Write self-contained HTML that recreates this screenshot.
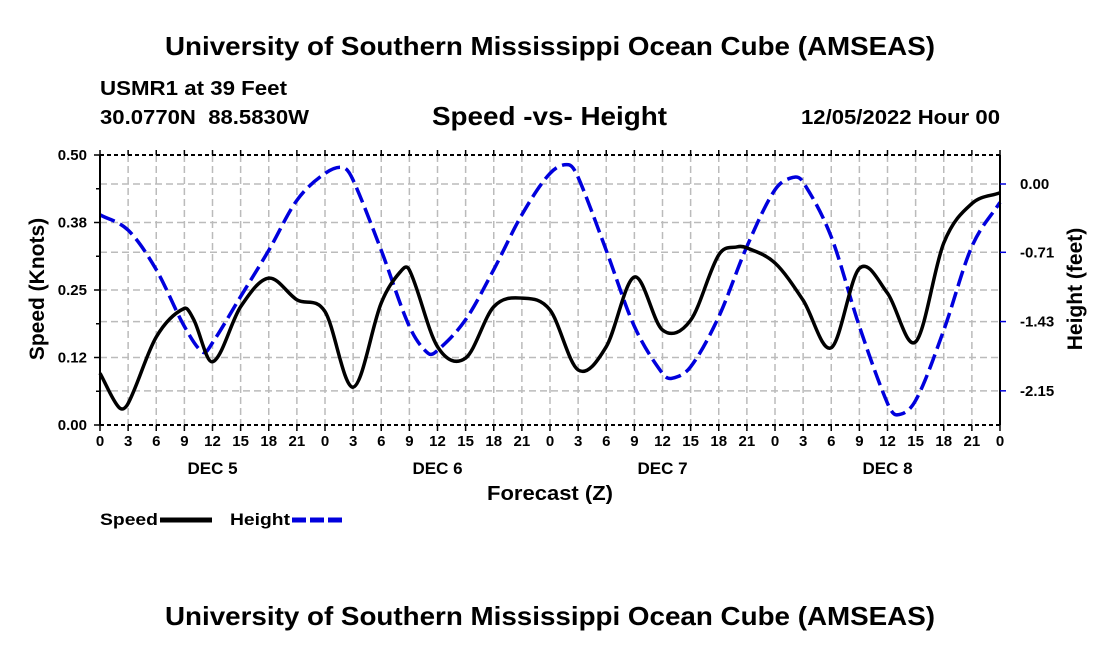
<!DOCTYPE html>
<html><head><meta charset="utf-8"><style>
body{margin:0;background:#fff;}
svg{display:block;font-family:"Liberation Sans",Arial,sans-serif;font-weight:bold;}
</style></head><body>
<svg id="chart" width="1100" height="650" viewBox="0 0 1100 650">
<text x="165" y="55" font-size="26" textLength="770" lengthAdjust="spacingAndGlyphs">University of Southern Mississippi Ocean Cube (AMSEAS)</text>
<text x="100" y="95" font-size="20" textLength="187" lengthAdjust="spacingAndGlyphs">USMR1 at 39 Feet</text>
<text x="100" y="124" font-size="20" textLength="209" lengthAdjust="spacingAndGlyphs">30.0770N&#160;&#160;88.5830W</text>
<text x="432" y="125" font-size="26" textLength="235" lengthAdjust="spacingAndGlyphs">Speed -vs- Height</text>
<text x="801" y="124" font-size="20" textLength="199" lengthAdjust="spacingAndGlyphs">12/05/2022 Hour 00</text>
<g id="grid"></g>
<g id="series"></g>
<g id="axes"></g>
<text x="487" y="500" font-size="20" textLength="126" lengthAdjust="spacingAndGlyphs">Forecast (Z)</text>
<text transform="translate(44,289) rotate(-90)" text-anchor="middle" font-size="21">Speed (Knots)</text>
<text transform="translate(1082,289) rotate(-90)" text-anchor="middle" font-size="21">Height (feet)</text>
<g><text x="100" y="525" font-size="17" textLength="58" lengthAdjust="spacingAndGlyphs">Speed</text><line x1="160" y1="520" x2="212" y2="520" stroke="#000" stroke-width="5"/></g>
<g><text x="230" y="525" font-size="17" textLength="60" lengthAdjust="spacingAndGlyphs">Height</text><line x1="292" y1="520" x2="342" y2="520" stroke="#0000dd" stroke-width="5" stroke-dasharray="14,4"/></g>
<text x="165" y="625" font-size="26" textLength="770" lengthAdjust="spacingAndGlyphs">University of Southern Mississippi Ocean Cube (AMSEAS)</text>
</svg>
<script>
const speedHours=[0,2,3,6,9,10,12,15,18,21,24,27,30,32,33,36,39,42,45,48,51,54,57,60,63,66,68,69,72,75,78,81,84,87,90,93,96];
const speedVals=[0.096,0.033,0.04,0.163,0.216,0.195,0.117,0.219,0.272,0.232,0.21,0.07,0.226,0.283,0.287,0.145,0.124,0.219,0.235,0.213,0.102,0.145,0.274,0.176,0.194,0.315,0.33,0.328,0.30,0.231,0.143,0.29,0.244,0.154,0.337,0.41,0.43];
const heightHours=[0,3,6,9,11,12,15,18,21,24,26,27,30,33,35,36,39,42,45,48,50,51,54,57,60,61,63,66,69,72,74,75,78,81,84,85,87,90,93,96];
const heightVals=[-0.32,-0.48,-0.89,-1.48,-1.75,-1.65,-1.17,-0.69,-0.17,0.11,0.17,0.04,-0.69,-1.48,-1.76,-1.73,-1.41,-0.89,-0.32,0.11,0.2,0.07,-0.69,-1.48,-1.97,-2.02,-1.9,-1.38,-0.65,-0.06,0.07,0.02,-0.55,-1.48,-2.28,-2.40,-2.25,-1.52,-0.65,-0.19];
const xTickLabels=["0","3","6","9","12","15","18","21"];
const leftTicks=[0,0.125,0.25,0.375,0.5];
const leftTickLabels=["0.00","0.12","0.25","0.38","0.50"];
const rightTicks=[0,-0.71,-1.43,-2.15];
const rightTickLabels=["0.00","-0.71","-1.43","-2.15"];
const dayLabels=["DEC 5","DEC 6","DEC 7","DEC 8"];

const L=100,R=1000,T=155,B=425;
const xS=h=>L+(R-L)*h/96;
const yS=v=>B-(B-T)*v/0.5;
const yH=f=>184-f*96.2;
const NS="http://www.w3.org/2000/svg";
function mk(tag,attrs,parent){const e=document.createElementNS(NS,tag);for(const k in attrs)e.setAttribute(k,attrs[k]);parent.appendChild(e);return e;}
const grid=document.getElementById('grid'),axes=document.getElementById('axes'),series=document.getElementById('series');
for(let h=3;h<96;h+=3){const l=mk('line',{x1:xS(h),x2:xS(h),y1:T,y2:B,stroke:'#bbb','stroke-width':1.5,'stroke-dasharray':'7,4'},grid);

}
leftTicks.slice(1,-1).forEach(v=>{const l=mk('line',{x1:L,x2:R,y1:yS(v),y2:yS(v),stroke:'#bbb','stroke-width':1.5,'stroke-dasharray':'7,4'},grid);

});
rightTicks.forEach(v=>{const l=mk('line',{x1:L,x2:R,y1:yH(v),y2:yH(v),stroke:'#bbb','stroke-width':1.5,'stroke-dasharray':'7,4'},grid);

});
mk('line',{x1:L,x2:R,y1:T,y2:T,stroke:'#000','stroke-width':2,'stroke-dasharray':'4,3'},axes);
mk('line',{x1:L,x2:R,y1:B,y2:B,stroke:'#000','stroke-width':2,'stroke-dasharray':'4,3'},axes);
mk('line',{x1:L,x2:L,y1:T,y2:B,stroke:'#000','stroke-width':2},axes);
mk('line',{x1:R,x2:R,y1:T,y2:B,stroke:'#000','stroke-width':2},axes);
for(let i=0;i<=32;i++){const h=i*3,x=xS(h);
mk('line',{x1:x,x2:x,y1:B,y2:B+6,stroke:'#000','stroke-width':1.5},axes);
mk('line',{x1:x,x2:x,y1:T,y2:T-5,stroke:'#000','stroke-width':1.5},axes);
const t=mk('text',{x:x,y:B+21,'text-anchor':'middle','font-size':15},axes);t.textContent=xTickLabels[i%8];

}
dayLabels.forEach((d,i)=>{const t=mk('text',{x:xS(12+24*i),y:B+49,'text-anchor':'middle','font-size':17},axes);t.textContent=d;

});
leftTicks.forEach((v,i)=>{mk('line',{x1:L-6,x2:L,y1:yS(v),y2:yS(v),stroke:'#000','stroke-width':1.5},axes);
const t=mk('text',{x:L-13,y:yS(v)+5,'text-anchor':'end','font-size':15},axes);t.textContent=leftTickLabels[i];

});
for(let v=0.0625;v<0.5;v+=0.125)mk('line',{x1:L-4,x2:L,y1:yS(v),y2:yS(v),stroke:'#000','stroke-width':1.5},axes);
rightTicks.forEach((v,i)=>{mk('line',{x1:R,x2:R+6,y1:yH(v),y2:yH(v),stroke:'#0000dd','stroke-width':1.5},axes);
const t=mk('text',{x:R+20,y:yH(v)+5,'font-size':15},axes);t.textContent=rightTickLabels[i];

});
function path(xs,ys){const n=xs.length,m=[];
for(let i=0;i<n;i++){const a=Math.max(0,i-1),b=Math.min(n-1,i+1);m.push((ys[b]-ys[a])/(xs[b]-xs[a]));}
let d='M'+xs[0]+','+ys[0];
for(let i=0;i<n-1;i++){const dx=(xs[i+1]-xs[i])/3;
d+=`C${xs[i]+dx},${ys[i]+m[i]*dx} ${xs[i+1]-dx},${ys[i+1]-m[i+1]*dx} ${xs[i+1]},${ys[i+1]}`;}return d;}
const hp=mk('path',{d:path(heightHours.map(xS),heightVals.map(yH)),fill:'none',stroke:'#0000dd','stroke-width':3.5,'stroke-dasharray':'16,6'},series);


const sp=mk('path',{d:path(speedHours.map(xS),speedVals.map(yS)),fill:'none',stroke:'#000','stroke-width':3.5},series);


</script>
</body></html>
